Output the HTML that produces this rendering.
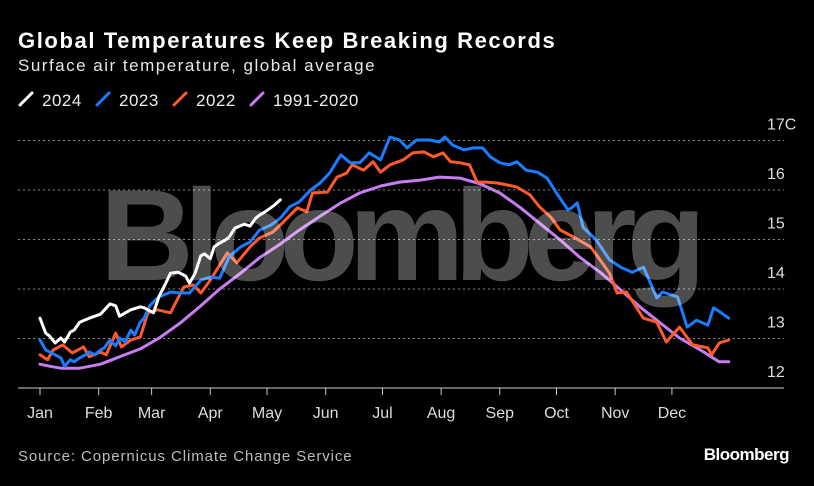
<!DOCTYPE html>
<html><head><meta charset="utf-8"><style>
html,body{margin:0;padding:0;background:#000;}
body{width:814px;height:481px;overflow:hidden;font-family:"Liberation Sans",sans-serif;}
</style></head><body>
<svg id="chart" width="814" height="481" xmlns="http://www.w3.org/2000/svg">
<rect width="814" height="481" fill="#000"/>
<text x="18" y="48" fill="#fff" font-size="22" font-weight="bold" letter-spacing="1.6">Global Temperatures Keep Breaking Records</text>
<text x="18" y="71" fill="#e6e6e6" font-size="17" letter-spacing="1.5">Surface air temperature, global average</text>
<g id="legend"></g>
<g id="grid"></g>
<g id="xaxis"></g>
<g id="yaxis"></g>
<g id="lines"></g>
<text x="398" y="280" text-anchor="middle" fill="rgba(255,255,255,0.3)" font-size="130" font-weight="bold" letter-spacing="-10">Bloomberg</text>
<text x="18" y="461" fill="#bbb" font-size="15" letter-spacing="0.9">Source: Copernicus Climate Change Service</text>
<text x="789" y="460" text-anchor="end" fill="#fff" font-size="17" font-weight="bold" letter-spacing="-0.5">Bloomberg</text>
</svg>
<script>
const monthLabels = ["Jan","Feb","Mar","Apr","May","Jun","Jul","Aug","Sep","Oct","Nov","Dec"];
const monthStartDays = [0,31,59,90,120,151,181,212,243,273,304,334];
const yTicks = [12,13,14,15,16,17];
const yTickLabels = ["12","13","14","15","16","17C"];
const seriesNames = ["2024","2023","2022","1991-2020"];
const seriesColors = ["#ffffff","#1a7cff","#ff5a2a","#c77cf0"];
const series2024 = [[0,13.41],[3,13.11],[5,13.05],[8,12.91],[11,13.01],[13,12.93],[16,13.13],[18,13.17],[21,13.33],[26,13.41],[32,13.49],[37,13.70],[40,13.66],[42,13.45],[48,13.58],[53,13.64],[55,13.62],[60,13.52],[63,13.86],[66,14.08],[69,14.32],[73,14.34],[77,14.26],[79,14.12],[82,14.32],[85,14.67],[87,14.71],[90,14.61],[92,14.85],[95,14.93],[98,14.99],[100,15.05],[103,15.23],[108,15.31],[111,15.27],[114,15.43],[116,15.49],[119,15.56],[122,15.64],[124,15.70],[127,15.80]];
const series2023 = [[0,12.97],[3,12.77],[5,12.73],[8,12.67],[11,12.61],[13,12.44],[16,12.57],[18,12.53],[21,12.61],[24,12.67],[26,12.73],[29,12.67],[32,12.77],[34,12.81],[37,12.97],[40,12.85],[42,13.01],[45,12.93],[48,13.17],[50,13.07],[53,13.33],[55,13.41],[58,13.66],[61,13.78],[63,13.84],[69,13.94],[74,13.92],[79,13.92],[85,14.18],[90,14.24],[95,14.22],[100,14.65],[106,14.85],[111,14.95],[116,15.19],[122,15.29],[127,15.43],[132,15.66],[137,15.76],[143,16.00],[148,16.14],[153,16.34],[159,16.71],[164,16.55],[169,16.55],[174,16.75],[180,16.61],[185,17.07],[190,17.01],[194,16.85],[199,17.01],[206,17.01],[211,16.97],[214,17.07],[218,16.91],[224,16.81],[229,16.85],[234,16.85],[238,16.67],[243,16.55],[248,16.51],[252,16.57],[257,16.40],[263,16.36],[268,16.24],[273,15.94],[279,15.60],[281,15.64],[284,15.74],[287,15.25],[294,14.99],[301,14.59],[307,14.44],[313,14.34],[319,14.44],[326,13.82],[329,13.94],[337,13.84],[342,13.23],[347,13.37],[353,13.27],[356,13.62],[360,13.52],[364,13.41]];
const series2022 = [[0,12.67],[4,12.57],[7,12.77],[12,12.87],[17,12.71],[23,12.83],[26,12.63],[32,12.73],[35,12.67],[40,13.11],[43,12.83],[48,12.97],[53,13.03],[57,13.52],[62,13.58],[69,13.52],[76,14.04],[81,14.08],[85,13.92],[90,14.18],[99,14.73],[104,14.53],[111,14.85],[116,15.03],[123,15.15],[128,15.33],[136,15.64],[141,15.56],[144,15.94],[152,15.96],[157,16.26],[162,16.34],[165,16.51],[171,16.40],[176,16.57],[180,16.36],[185,16.51],[192,16.61],[197,16.75],[203,16.77],[208,16.67],[213,16.75],[217,16.57],[222,16.55],[227,16.51],[231,16.16],[236,16.16],[242,16.14],[247,16.10],[252,16.06],[259,15.90],[264,15.66],[270,15.45],[275,15.19],[282,15.05],[291,14.85],[296,14.59],[301,14.32],[305,13.92],[310,13.94],[316,13.58],[319,13.41],[326,13.33],[331,12.93],[338,13.23],[345,12.87],[353,12.81],[355,12.67],[359,12.91],[364,12.97]];
const seriesClim = [[0,12.48],[5,12.44],[11,12.40],[21,12.40],[32,12.48],[42,12.63],[53,12.79],[63,13.01],[74,13.31],[85,13.66],[95,14.00],[106,14.32],[116,14.63],[127,14.91],[137,15.19],[148,15.47],[159,15.74],[169,15.94],[180,16.08],[190,16.16],[201,16.20],[211,16.26],[222,16.24],[233,16.12],[243,15.94],[254,15.64],[264,15.33],[275,14.99],[285,14.65],[296,14.34],[307,13.98],[317,13.64],[328,13.31],[338,13.01],[349,12.77],[359,12.53],[364,12.53]];

const NS = "http://www.w3.org/2000/svg";
const x = d => 40 + d * 1.892;
const y = t => 388 - (t - 12) * 49.5;
function mk(tag, attrs, parent){ const e=document.createElementNS(NS,tag); for(const k in attrs) e.setAttribute(k,attrs[k]); parent.appendChild(e); return e; }

const grid = document.getElementById('grid');
const yaxis = document.getElementById('yaxis');
yTicks.forEach((t,i)=>{
  if (t > 12) {
    const l = mk('line',{x1:18,x2:784,y1:y(t),y2:y(t),stroke:'#888','stroke-width':1,'stroke-dasharray':'2,3'},grid);
    
    
  }
  const tx = mk('text',{x:767,y:y(t)-11,fill:'#ddd','font-size':16,'text-anchor':'start'},yaxis);
  tx.textContent = yTickLabels[i];
  
  
});
const xaxis = document.getElementById('xaxis');
const base = mk('line',{x1:18,x2:784,y1:388,y2:388,stroke:'#ccc','stroke-width':1},xaxis);


monthLabels.forEach((m,i)=>{
  const tk = mk('line',{x1:x(monthStartDays[i]),x2:x(monthStartDays[i]),y1:388,y2:395,stroke:'#ccc','stroke-width':1},xaxis);
  
  
  const tx = mk('text',{x:x(monthStartDays[i]),y:418,fill:'#ddd','font-size':16,'text-anchor':'middle'},xaxis);
  tx.textContent = m;
  
  
});
const lines = document.getElementById('lines');
const allSeries = [seriesClim, series2022, series2023, series2024];
const order = [3,2,1,0];
allSeries.forEach((s,k)=>{
  const idx = order[k];
  const p = mk('polyline',{points:s.map(pt=>x(pt[0]).toFixed(1)+','+y(pt[1]).toFixed(1)).join(' '),fill:'none',stroke:seriesColors[idx],'stroke-width':3,'stroke-linejoin':'round','stroke-linecap':'round'},lines);
  
  
});
const legend = document.getElementById('legend');
const legX = [18, 95, 172, 249];
seriesNames.forEach((n,i)=>{
  const g = mk('g',{},legend);
  
  
  mk('line',{x1:legX[i]+2,y1:105,x2:legX[i]+14,y2:93,stroke:seriesColors[i],'stroke-width':3,'stroke-linecap':'round'},g);
  const t = mk('text',{x:legX[i]+24,y:106,fill:'#eee','font-size':17,'letter-spacing':0.5},g);
  t.textContent = n;
});
</script>
</body></html>
